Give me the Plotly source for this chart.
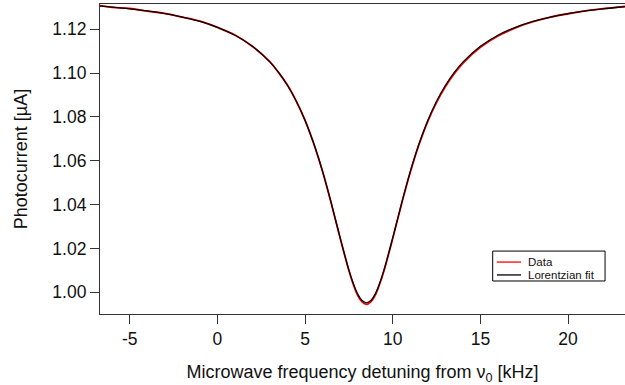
import plotly.graph_objects as go

data_x = [-6.7, -6, -5, -4, -3, -2, -1, 0, 1, 2, 3, 3.5, 4, 4.5, 5, 5.5, 6, 6.5, 7, 7.5,
          7.75, 8, 8.25, 8.5, 8.75, 9, 9.25, 9.5, 10, 10.5, 11, 11.5, 12, 12.5, 13, 13.5,
          14, 15, 16, 17, 18, 19, 20, 21, 22, 23, 23.25]
data_y = [1.13075, 1.13000, 1.12945, 1.12825, 1.12720, 1.12550, 1.12365, 1.12080, 1.11735,
          1.11215, 1.10505, 1.10010, 1.09440, 1.08710, 1.07845, 1.06765, 1.05505, 1.04035,
          1.02475, 1.00990, 1.00360, 0.99860, 0.99560, 0.99450, 0.99565, 0.99860, 1.00365,
          1.00980, 1.02460, 1.04020, 1.05475, 1.06740, 1.07800, 1.08665, 1.09380, 1.09960,
          1.10445, 1.11170, 1.11690, 1.12060, 1.12340, 1.12550, 1.12705, 1.12840, 1.12935,
          1.13020, 1.13035]

# Lorentzian fit curve
fit_x = [-6.7, -6, -5, -4, -3, -2, -1, 0, 1, 2, 3, 3.5, 4, 4.5, 5, 5.5, 6, 6.5, 7, 7.5,
         7.75, 8, 8.25, 8.5, 8.75, 9, 9.25, 9.5, 10, 10.5, 11, 11.5, 12, 12.5, 13, 13.5,
         14, 15, 16, 17, 18, 19, 20, 21, 22, 23, 23.25]
fit_y = [1.13057, 1.13010, 1.12931, 1.12834, 1.12711, 1.12556, 1.12354, 1.12087, 1.11725,
         1.11221, 1.10498, 1.10019, 1.09433, 1.08716, 1.07839, 1.06773, 1.05502, 1.04042,
         1.02481, 1.01011, 1.00400, 0.99925, 0.99624, 0.99520, 0.99624, 0.99925, 1.00400,
         1.01011, 1.02481, 1.04042, 1.05502, 1.06773, 1.07839, 1.08716, 1.09433, 1.10019,
         1.10498, 1.11221, 1.11725, 1.12087, 1.12354, 1.12556, 1.12711, 1.12834, 1.12931,
         1.13010, 1.13028]

x_ticks = [-5, 0, 5, 10, 15, 20]
x_tick_labels = ["-5", "0", "5", "10", "15", "20"]
y_ticks = [1.00, 1.02, 1.04, 1.06, 1.08, 1.10, 1.12]
y_tick_labels = ["1.00", "1.02", "1.04", "1.06", "1.08", "1.10", "1.12"]

series_names = ["Data", "Lorentzian fit"]
series_colors = ["#ff0000", "#000000"]

FONT = "Liberation Sans, Arial, sans-serif"

fig = go.Figure()
fig.add_trace(go.Scatter(x=data_x, y=data_y, mode="lines", name=series_names[0],
                         showlegend=False,
                         line=dict(color=series_colors[0], width=1.8, shape="spline")))
fig.add_trace(go.Scatter(x=fit_x, y=fit_y, mode="lines", name=series_names[1],
                         showlegend=False,
                         line=dict(color=series_colors[1], width=1.3, shape="spline")))

axis_common = dict(showgrid=False, zeroline=False, showline=True, linecolor="#333333",
                   linewidth=1.2, ticks="outside", ticklen=9, tickwidth=1.2,
                   tickcolor="#333333", automargin=False,
                   tickfont=dict(family=FONT, size=17.5, color="#111111"))

fig.update_layout(
    width=625, height=385,
    margin=dict(l=100, r=0, t=4, b=71),
    paper_bgcolor="white", plot_bgcolor="white",
    font=dict(family=FONT, color="#111111"),
    showlegend=False,
    xaxis=dict(range=[-6.7, 23.25], tickmode="array", tickvals=x_ticks,
               ticktext=x_tick_labels, mirror=True,
               title=dict(text="Microwave frequency detuning from ν<sub>0</sub> [kHz]",
                          font=dict(family=FONT, size=18), standoff=17),
               **axis_common),
    yaxis=dict(range=[0.9901, 1.1315], tickmode="array", tickvals=y_ticks,
               ticktext=y_tick_labels,
               title=dict(text="Photocurrent [µA]", font=dict(family=FONT, size=18),
                          standoff=20),
               **axis_common),
)

# Boxed legend drawn in the lower right corner of the plot area
fig.add_shape(type="rect", xref="paper", yref="paper", x0=0.748, x1=0.962,
              y0=0.1065, y1=0.203, line=dict(color="#000000", width=1),
              fillcolor="white", layer="above")
legend_rows_y = [0.1675, 0.126]
for name, color, yy in zip(series_names, series_colors, legend_rows_y):
    fig.add_shape(type="line", xref="paper", yref="paper", x0=0.756, x1=0.802,
                  y0=yy, y1=yy, line=dict(color=color, width=1.3), layer="above")
    fig.add_annotation(xref="paper", yref="paper", x=0.8133, y=yy, text=name,
                       showarrow=False, xanchor="left", yanchor="middle", borderpad=0,
                       font=dict(family=FONT, size=11.5, color="#111111"))

fig.write_html("out.html", config={"displayModeBar": False},
               post_script="document.body.style.margin='0px';")
